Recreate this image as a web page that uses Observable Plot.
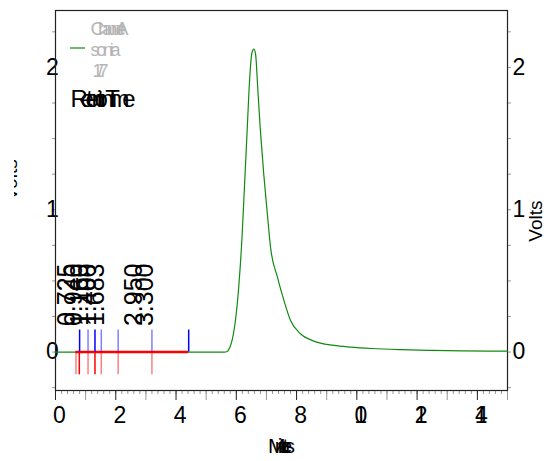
<!DOCTYPE html>
<html><head><meta charset="utf-8">
<script src="https://cdn.jsdelivr.net/npm/d3@7"></script>
<script src="https://cdn.jsdelivr.net/npm/@observablehq/plot@0.6"></script>
<style>body{margin:0;background:#fff} svg{display:block}</style>
</head><body><div id="chart"></div>
<script>
// trace (minutes, volts)
const traceTime  = [0, 5.60, 5.70, 5.78, 5.86, 5.97, 6.08, 6.19, 6.27, 6.36, 6.44, 6.52, 6.58, 6.64, 6.71, 6.80, 6.91, 7.03, 7.14, 7.36, 7.58, 7.80, 8.13, 8.57, 9.24, 9.79, 10.5, 11.5, 12.5, 13.5, 15];
const traceVolts = [0, 0.000, 0.004, 0.030, 0.082, 0.220, 0.456, 0.807, 1.158, 1.556, 1.907, 2.105, 2.129, 2.094, 1.860, 1.556, 1.252, 0.971, 0.730, 0.530, 0.363, 0.222, 0.129, 0.077, 0.047, 0.035, 0.025, 0.017, 0.012, 0.009, 0.006];
// peak retention labels
const peakTimes  = [0.725, 0.940, 1.160, 1.400, 1.683, 2.950, 3.300];
const peakLabels = ["0.725", "0.940", "1.160", "1.400", "1.683", "2.950", "3.300"];
// peak start (red) and end (blue) markers
const startTimes   = [0.68, 0.79, 1.08, 1.31, 1.52, 2.08, 3.20];
const startOpacity = [0.5, 1, 0.5, 1, 0.5, 0.5, 0.5];
const endTimes     = [0.80, 1.08, 1.31, 1.52, 2.08, 3.20, 4.42];
const endOpacity   = [1, 0.5, 1, 0.5, 0.5, 0.5, 1];
const baselineRange = [0.68, 4.42];
// axes
const xTicks = [0, 2, 4, 6, 8, 10, 12, 14];
const xTickLabels = ["0", "2", "4", "6", "8", "10", "12", "14"];
const xOddTicks = [1, 3, 5, 7, 9, 11, 13, 15];
const xMinorTicks = d3.range(0, 15.001, 0.2);
const yTicks = [0, 1, 2];
const yTickLabels = ["0", "1", "2"];
const yMinorTicks = [-0.25, 0.25, 0.5, 0.75, 1.25, 1.5, 1.75, 2.25];
const xLabel = "Minutes";
const yLabel = "Volts";
const legendLines = ["Channel A", "sonia", "1/7"];
const legendTitle = "Retention Time";

const trace = traceTime.map((t, i) => ({t, v: traceVolts[i]}));
const peaks = peakTimes.map((t, i) => ({t, v: 0, label: peakLabels[i]}));
const starts = startTimes.map((t, i) => ({t, o: startOpacity[i]}));
const ends = endTimes.map((t, i) => ({t, o: endOpacity[i]}));
const fmtX = d => xTickLabels[xTicks.indexOf(d)];
const fmtY = d => yTickLabels[yTicks.indexOf(d)];

const chart = Plot.plot({
  width: 557, height: 461,
  marginLeft: 55, marginRight: 50, marginTop: 10, marginBottom: 71,
  x: {domain: [0, 15]},
  y: {domain: [-0.27, 2.40]},
  style: {fontFamily: "'Liberation Sans', Arial, sans-serif", background: "#fff", color: "#000"},
  marks: [
    Plot.axisX({ticks: xMinorTicks, tickSize: 4, stroke: "#999", tickFormat: () => "", label: null}),
    Plot.axisX({ticks: xOddTicks, tickSize: 10, stroke: "#999", tickFormat: () => "", label: null}),
    Plot.axisX({ticks: xTicks, tickSize: 10, stroke: "#222", tickFormat: () => "", label: null}),
    Plot.axisX({ticks: xTicks, tickSize: 0, tickPadding: 16, tickFormat: fmtX, fontSize: 23, dx: 4, label: null}),
    Plot.axisY({anchor: "left", ticks: yMinorTicks.concat(yTicks), tickSize: 3, stroke: "#999", tickFormat: () => "", label: null}),
    Plot.axisY({anchor: "right", ticks: yMinorTicks.concat(yTicks), tickSize: 3, stroke: "#999", tickFormat: () => "", label: null}),
    Plot.axisY({anchor: "left", ticks: yTicks, tickSize: 0, tickPadding: 3, textAnchor: "middle", tickFormat: fmtY, fontSize: 23, label: null}),
    Plot.axisY({anchor: "right", ticks: yTicks, tickSize: 0, tickPadding: 5, tickFormat: fmtY, fontSize: 23, label: null}),
    Plot.frame({stroke: "#222", strokeWidth: 1.2}),
    Plot.line(trace, {x: "t", y: "v", stroke: "#118a11", strokeWidth: 1.2, curve: "monotone-x"}),
    Plot.ruleY([0], {x1: baselineRange[0], x2: baselineRange[1], stroke: "#f00", strokeWidth: 2.5}),
    Plot.ruleX(starts, {x: "t", y1: 0, y2: -0.16, stroke: "#f00", strokeOpacity: "o", strokeWidth: 1.5}),
    Plot.ruleX(ends, {x: "t", y1: 0, y2: 0.155, stroke: "#00f", strokeOpacity: "o", strokeWidth: 1.5}),
    Plot.text(peaks, {x: "t", y: "v", text: "label", rotate: -90, textAnchor: "start", dx: -10, dy: -26, fontSize: 25, fill: "#000"}),
    Plot.text([xLabel], {frameAnchor: "bottom", dy: 62, fontSize: 21, fill: "#000"}),
    Plot.text([yLabel], {frameAnchor: "right", dx: 28, rotate: -90, fontSize: 19, fill: "#000"}),
    Plot.text([yLabel], {frameAnchor: "left", dx: -45, rotate: -90, fontSize: 19, fill: "#000"}),
    Plot.text([legendLines[0]], {frameAnchor: "top-left", dx: 35, dy: 11, textAnchor: "start", fontSize: 19, fill: "#b5b5b5"}),
    Plot.text([legendLines[1]], {frameAnchor: "top-left", dx: 35, dy: 33, textAnchor: "start", fontSize: 18, fill: "#b5b5b5"}),
    Plot.text([legendLines[2]], {frameAnchor: "top-left", dx: 37, dy: 54, textAnchor: "start", fontSize: 18, fill: "#b5b5b5"}),
    Plot.text([legendTitle], {frameAnchor: "top-left", dx: 15, dy: 79, textAnchor: "start", fontSize: 24, fill: "#000"})
  ]
});
document.getElementById("chart").appendChild(chart);

// compressed (overlapping) text as in the original rendering
const squeeze = {"Channel A": 38, "sonia": 30, "1/7": 16, "Retention Time": 65, "Minutes": 27, "10": 13, "12": 13, "14": 13};
const svg = d3.select(chart);
svg.selectAll("text").each(function () {
  const s = this.textContent;
  if (squeeze[s] !== undefined) {
    d3.select(this).attr("textLength", squeeze[s]).attr("lengthAdjust", "spacing");
  }
});
// clip the left axis title (only its edge shows in the original)
const defs = svg.append("defs");
defs.append("clipPath").attr("id", "leftclip").append("rect").attr("x", 14).attr("y", 0).attr("width", 60).attr("height", 461);
svg.selectAll("text").filter(function () {
  return this.textContent === yLabel && this.getBoundingClientRect().left < 40;
}).each(function () {
  const g = this.parentNode;
  const wrap = document.createElementNS("http://www.w3.org/2000/svg", "g");
  wrap.setAttribute("clip-path", "url(#leftclip)");
  g.parentNode.insertBefore(wrap, g);
  wrap.appendChild(g);
});
// legend swatch
svg.append("line").attr("x1", 70).attr("x2", 85).attr("y1", 48).attr("y2", 48).attr("stroke", "#118a11").attr("stroke-width", 1.2);
</script>
</body></html>
